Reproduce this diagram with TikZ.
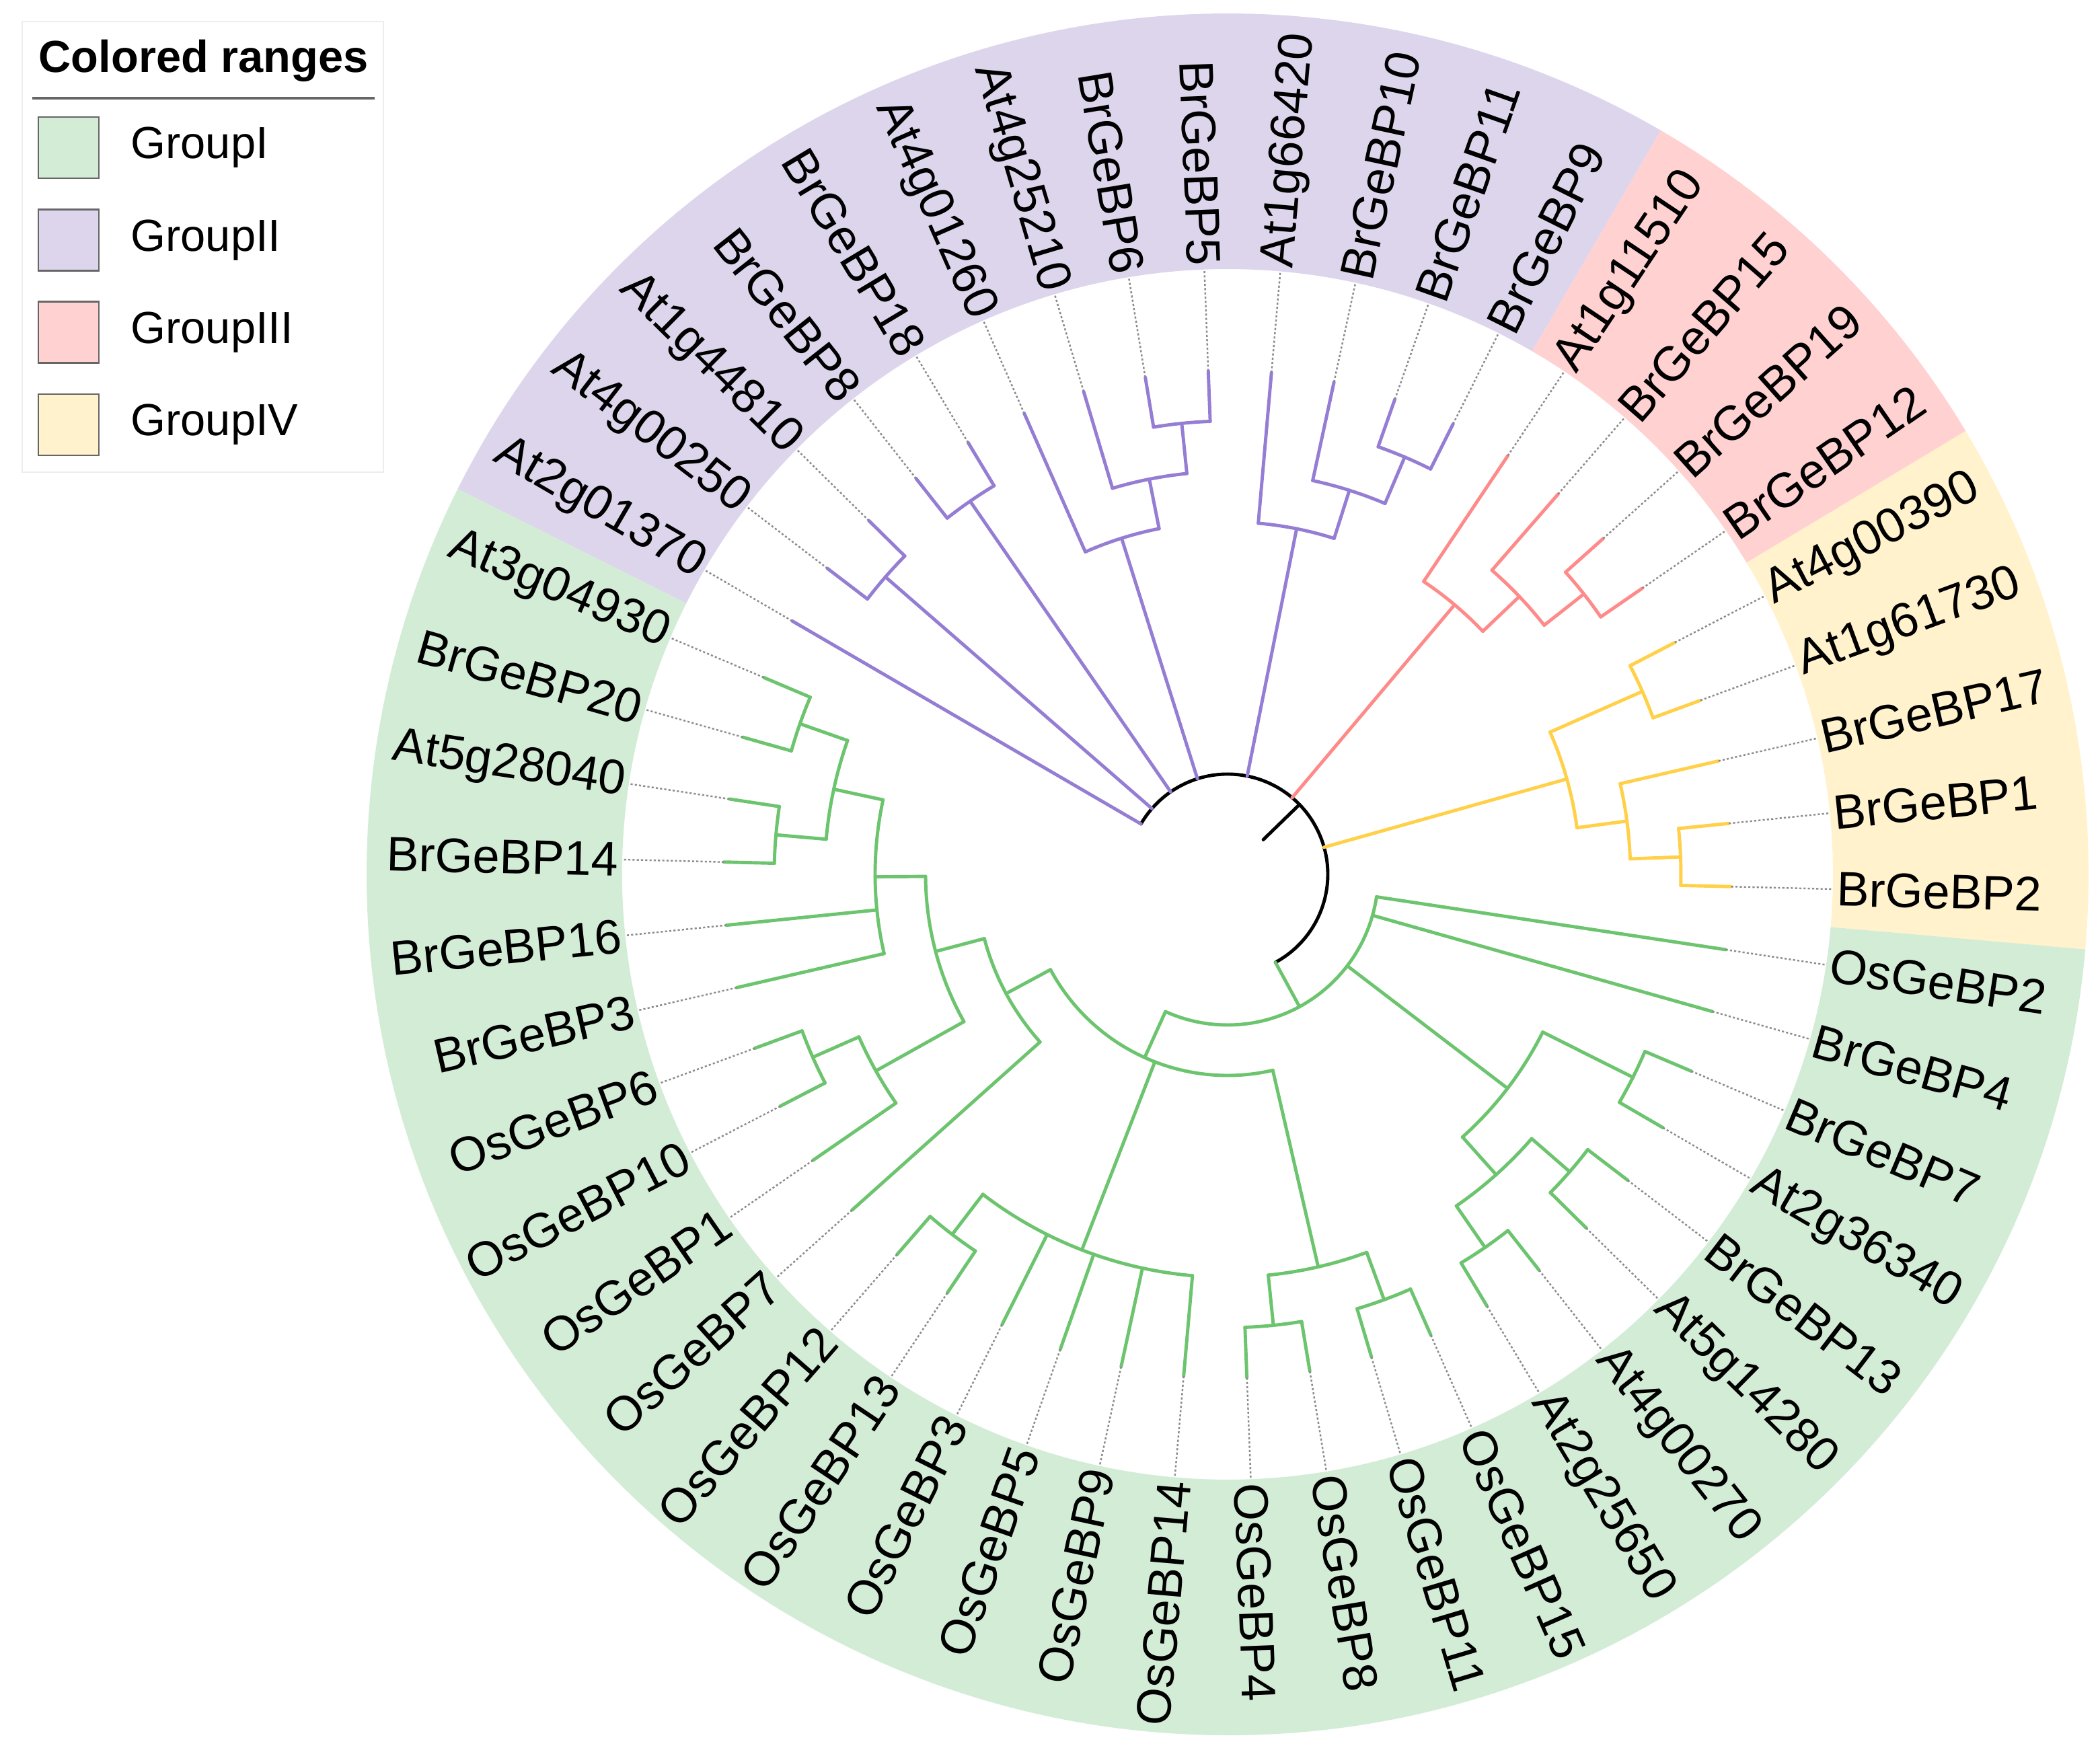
\documentclass[tikz,border=0pt]{standalone}
\usepackage{fontspec}
\setmainfont{Liberation Sans}
\usetikzlibrary{positioning}

\definecolor{ringI}{RGB}{211,236,214}
\definecolor{ringII}{RGB}{221,213,236}
\definecolor{ringIII}{RGB}{255,209,209}
\definecolor{ringIV}{RGB}{255,242,204}
\definecolor{brG}{RGB}{108,196,110}
\definecolor{brP}{RGB}{149,125,212}
\definecolor{brR}{RGB}{255,138,138}
\definecolor{brY}{RGB}{255,208,72}

\tikzset{
  branch/.style={line width=1.4pt, line cap=round},
  guide/.style={draw=black!45, line width=0.7pt, dash pattern=on 0.9pt off 0.9pt},
  leafR/.style={anchor=west, inner sep=1.5pt, font=\fontsize{20.5}{24}\selectfont},
  leafL/.style={anchor=east, inner sep=1.5pt, font=\fontsize{20.5}{24}\selectfont},
  swatch/.style={draw=black!60, line width=0.8pt, minimum width=0.9cm, minimum height=0.91cm, inner sep=0pt},
  legtext/.style={inner sep=1pt, font=\fontsize{19}{22}\selectfont}
}

\begin{document}
\begin{tikzpicture}
    \useasboundingbox (-18.25,-12.96) rectangle (12.97,13.00);

    % colored ranges
    \fill[ringIV] (-5.0:9.0) arc[start angle=-5.0, end angle=31.0, radius=9.0] -- (31.0:12.8) arc[start angle=31.0, end angle=-5.0, radius=12.8] -- cycle;
    \fill[ringIII] (31.0:9.0) arc[start angle=31.0, end angle=59.8, radius=9.0] -- (59.8:12.8) arc[start angle=59.8, end angle=31.0, radius=12.8] -- cycle;
    \fill[ringII] (59.8:9.0) arc[start angle=59.8, end angle=153.4, radius=9.0] -- (153.4:12.8) arc[start angle=153.4, end angle=59.8, radius=12.8] -- cycle;
    \fill[ringI] (153.4:9.0) arc[start angle=153.4, end angle=355.0, radius=9.0] -- (355.0:12.8) arc[start angle=355.0, end angle=153.4, radius=12.8] -- cycle;

    % root
    \draw[branch, black] (-61.475:1.49) arc[start angle=-61.475, end angle=149.8, radius=1.49];
    \draw[branch, black] (44.16:0.74) -- (44.16:1.49);

    % internal nodes: colour / height / first child / last child / parent height
    \foreach \col/\hh/\a/\b/\hp in {
        brY/1/-1.4/5.8/2, brY/2/2.2/13.0/3, brY/1/20.2/27.4/3, brY/3/7.6/23.8/8,
        brR/1/34.6/41.8/2, brR/2/38.2/49.0/3, brR/3/43.6/56.2/8,
        brP/1/63.4/70.6/2, brP/2/67.0/77.8/3, brP/3/72.4/85.0/8,
        brP/1/92.2/99.4/2, brP/2/95.8/106.6/3, brP/3/101.2/113.8/8,
        brP/1/121.0/128.2/8, brP/1/135.4/142.6/8,
        brG/1/157.0/164.2/2, brG/1/171.4/178.6/2, brG/2/160.6/175.0/3,
        brG/3/167.8/193.0/4, brG/1/200.2/207.4/2, brG/2/203.8/214.6/4,
        brG/4/180.4/209.2/5, brG/5/194.8/221.8/6,
        brG/1/229.0/236.2/2, brG/2/232.6/265.0/6,
        brG/1/272.2/279.4/2, brG/1/286.6/293.8/2, brG/2/275.8/290.2/6,
        brG/6/208.3/283.0/7,
        brG/1/301.0/308.2/2, brG/1/315.4/322.6/2, brG/2/304.6/319.0/3,
        brG/1/329.8/337.0/3, brG/3/311.8/333.4/7,
        brG/7/245.65/351.4/8} {
        \pgfmathsetmacro\mid{(\a+\b)/2}
        \pgfmathsetmacro\rr{7.49-0.75*\hh}
        \pgfmathsetmacro\rp{7.49-0.75*\hp}
        \draw[branch, draw=\col] (\a:\rr) arc[start angle=\a, end angle=\b, radius=\rr];
        \draw[branch, draw=\col] (\mid:\rp) -- (\mid:\rr);
    }

    % leaves on the right half
    \foreach \k/\lab/\hp/\col in {
        0/BrGeBP2/1/brY, 1/BrGeBP1/1/brY, 2/BrGeBP17/2/brY, 3/At1g61730/1/brY, 4/At4g00390/1/brY,
        5/BrGeBP12/1/brR, 6/BrGeBP19/1/brR, 7/BrGeBP15/2/brR, 8/At1g11510/3/brR,
        9/BrGeBP9/1/brP, 10/BrGeBP11/1/brP, 11/BrGeBP10/2/brP, 12/At1g66420/3/brP,
        38/OsGeBP4/1/brG, 39/OsGeBP8/1/brG, 40/OsGeBP11/1/brG, 41/OsGeBP15/1/brG,
        42/At2g25650/1/brG, 43/At4g00270/1/brG, 44/At5g14280/1/brG, 45/BrGeBP13/1/brG,
        46/At2g36340/1/brG, 47/BrGeBP7/1/brG, 48/BrGeBP4/7/brG, 49/OsGeBP2/7/brG} {
        \pgfmathsetmacro\ang{-1.4+7.2*\k}
        \pgfmathsetmacro\rp{7.49-0.75*\hp}
        \coordinate (tip-\k) at (\ang:7.49);
        \draw[branch, draw=\col] (\ang:\rp) -- (tip-\k);
        \node[leafR, rotate=\ang] (lbl-\k) at (\ang:9.0) {\lab};
        \draw[guide] (tip-\k) -- (lbl-\k.west);
    }

    % leaves on the left half
    \foreach \k/\lab/\hp/\col in {
        13/BrGeBP5/1/brP, 14/BrGeBP6/1/brP, 15/At4g25210/2/brP, 16/At4g01260/3/brP,
        17/BrGeBP18/1/brP, 18/BrGeBP8/1/brP, 19/At1g44810/1/brP, 20/At4g00250/1/brP,
        21/At2g01370/8/brP,
        22/At3g04930/1/brG, 23/BrGeBP20/1/brG, 24/At5g28040/1/brG, 25/BrGeBP14/1/brG,
        26/BrGeBP16/3/brG, 27/BrGeBP3/3/brG, 28/OsGeBP6/1/brG, 29/OsGeBP10/1/brG,
        30/OsGeBP1/2/brG, 31/OsGeBP7/5/brG, 32/OsGeBP12/1/brG, 33/OsGeBP13/1/brG,
        34/OsGeBP3/2/brG, 35/OsGeBP5/2/brG, 36/OsGeBP9/2/brG, 37/OsGeBP14/2/brG} {
        \pgfmathsetmacro\ang{-1.4+7.2*\k}
        \pgfmathsetmacro\flip{\ang-180}
        \pgfmathsetmacro\rp{7.49-0.75*\hp}
        \coordinate (tip-\k) at (\ang:7.49);
        \draw[branch, draw=\col] (\ang:\rp) -- (tip-\k);
        \node[leafL, rotate=\flip] (lbl-\k) at (\ang:9.0) {\lab};
        \draw[guide] (tip-\k) -- (lbl-\k.east);
    }

    % legend
    \coordinate (leg-nw) at (-17.92,12.68);
    \coordinate (leg-se) at (-12.55,5.98);
    \draw[black!7, line width=0.8pt] (leg-nw) rectangle (leg-se);
    \node[anchor=base west, inner sep=0pt, font=\bfseries\fontsize{19}{22}\selectfont] (legtitle) at (-17.68,11.92) {Colored ranges};
    \coordinate (rule-l) at (-17.77,11.54);
    \coordinate (rule-r) at (-12.68,11.54);
    \draw[black!60, line width=1pt] (rule-l) -- (rule-r);
    \node[swatch, fill=ringI] (sw1) at (-17.23,10.805) {};
    \node[swatch, fill=ringII, below=0.435cm of sw1] (sw2) {};
    \node[swatch, fill=ringIII, below=0.435cm of sw2] (sw3) {};
    \node[swatch, fill=ringIV, below=0.435cm of sw3] (sw4) {};
    \node[legtext, right=0.42cm of sw1] (lg1) {GroupI};
    \node[legtext, right=0.42cm of sw2] (lg2) {GroupII};
    \node[legtext, right=0.42cm of sw3] (lg3) {GroupIII};
    \node[legtext, right=0.42cm of sw4] (lg4) {GroupIV};
\end{tikzpicture}
\end{document}
